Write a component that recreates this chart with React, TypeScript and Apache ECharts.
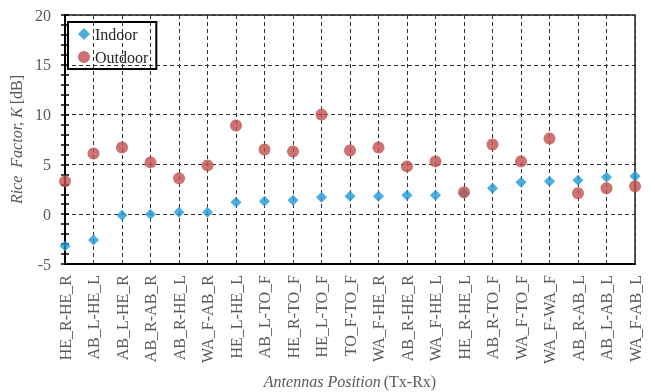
import React, { useEffect, useRef } from "react";
import * as echarts from "echarts";

const categories = [
  "HE_R-HE_R", "AB_L-HE_L", "AB_L-HE_R", "AB_R-AB_R", "AB_R-HE_L", "WA_F-AB_R",
  "HE_L-HE_L", "AB_L-TO_F", "HE_R-TO_F", "HE_L-TO_F", "TO_F-TO_F", "WA_F-HE_R",
  "AB_R-HE_R", "WA_F-HE_L", "HE_R-HE_L", "AB_R-TO_F", "WA_F-TO_F", "WA_F-WA_F",
  "AB_R-AB_L", "AB_L-AB_L", "WA_F-AB_L",
];
const indoor = [-3.2, -2.6, -0.1, 0.0, 0.2, 0.2, 1.2, 1.3, 1.4, 1.7, 1.8, 1.8, 1.9, 1.9, 2.1, 2.6, 3.2, 3.3, 3.4, 3.7, 3.8];
const outdoor = [3.3, 6.1, 6.7, 5.2, 3.6, 4.9, 8.9, 6.5, 6.3, 10.0, 6.4, 6.7, 4.8, 5.3, 2.2, 7.0, 5.3, 7.6, 2.1, 2.6, 2.8];
const yTicks = { min: -5, max: 20, interval: 5 };

const FONT = "Liberation Serif";
const GRAY = "#595959";

export default function App() {
  const ref = useRef<HTMLDivElement>(null);
  useEffect(() => {
    if (!ref.current) return;
    const chart = echarts.init(ref.current, null, { renderer: "svg" });
    chart.setOption({
      animation: false,
      textStyle: { fontFamily: FONT },
      grid: {
        left: 65, right: 20, top: 15, bottom: 128,
        containLabel: false, outerBoundsMode: "none",
        show: true, borderColor: "#222", borderWidth: 1.5,
      },
      legend: {
        orient: "vertical",
        left: 68,
        top: 22,
        borderColor: "#000",
        borderWidth: 2,
        padding: [4, 8, 4, 10],
        itemGap: 7,
        itemWidth: 12,
        itemHeight: 12,
        textStyle: { fontFamily: FONT, fontSize: 16, lineHeight: 16, color: "#262626" },
        data: [
          { name: "Indoor", icon: "diamond" },
          { name: "Outdoor", icon: "circle" },
        ],
      },
      xAxis: {
        type: "category",
        data: categories,
        boundaryGap: false,
        axisLine: { onZero: false, lineStyle: { color: "#000", width: 2 } },
        axisTick: { show: false },
        axisLabel: { rotate: 90, margin: 11, fontFamily: FONT, fontSize: 16, color: GRAY, interval: 0 },
        splitLine: { show: true, lineStyle: { color: "#333", type: [4, 3], width: 1 } },
        name: "{i|Antennas Position} {n|(Tx-Rx)}",
        nameLocation: "middle",
        nameGap: 109,
        nameTextStyle: {
          rich: {
            i: { fontFamily: FONT, fontSize: 16, fontStyle: "italic", color: GRAY },
            n: { fontFamily: FONT, fontSize: 16, color: GRAY },
          },
        },
      },
      yAxis: [
        {
          type: "value",
          position: "left",
          min: yTicks.min,
          max: yTicks.max,
          interval: yTicks.interval,
          axisLine: { show: true, lineStyle: { color: "#000", width: 2 } },
          axisTick: { show: true, length: 4, lineStyle: { color: "#000", width: 1.5 } },
          minorTick: { show: true, splitNumber: 5, length: 4, lineStyle: { color: "#000", width: 1.5 } },
          axisLabel: { margin: 14, fontFamily: FONT, fontSize: 16, color: GRAY },
          splitLine: { show: true, lineStyle: { color: "#333", type: [4, 3], width: 1 } },
          name: "{i|Rice  Factor, K} {n|[dB]}",
          nameLocation: "middle",
          nameGap: 37,
          nameTextStyle: {
            rich: {
              i: { fontFamily: FONT, fontSize: 16, fontStyle: "italic", color: GRAY },
              n: { fontFamily: FONT, fontSize: 16, color: GRAY },
            },
          },
        },
        {
          type: "value",
          position: "left",
          offset: 0,
          min: yTicks.min,
          max: yTicks.max,
          interval: yTicks.interval,
          axisLine: { show: false },
          axisTick: { show: true, inside: true, length: 4, lineStyle: { color: "#000", width: 1.5 } },
          minorTick: { show: true, splitNumber: 5, length: 4, lineStyle: { color: "#000", width: 1.5 } },
          axisLabel: { show: false, inside: true },
          splitLine: { show: false },
        },
      ],
      series: [
        {
          name: "Outdoor",
          type: "scatter",
          data: outdoor,
          symbol: "circle",
          symbolSize: 12,
          itemStyle: { color: "#C0504D" },
          z: 3,
        },
        {
          name: "Indoor",
          type: "scatter",
          data: indoor,
          symbol: "diamond",
          symbolSize: [11, 11],
          itemStyle: { color: "#1E9AD6" },
          z: 2,
        },
      ],
    });
    return () => chart.dispose();
  }, []);
  return <div ref={ref} style={{ position: "fixed", left: 0, top: 0, width: 655, height: 392 }} />;
}
